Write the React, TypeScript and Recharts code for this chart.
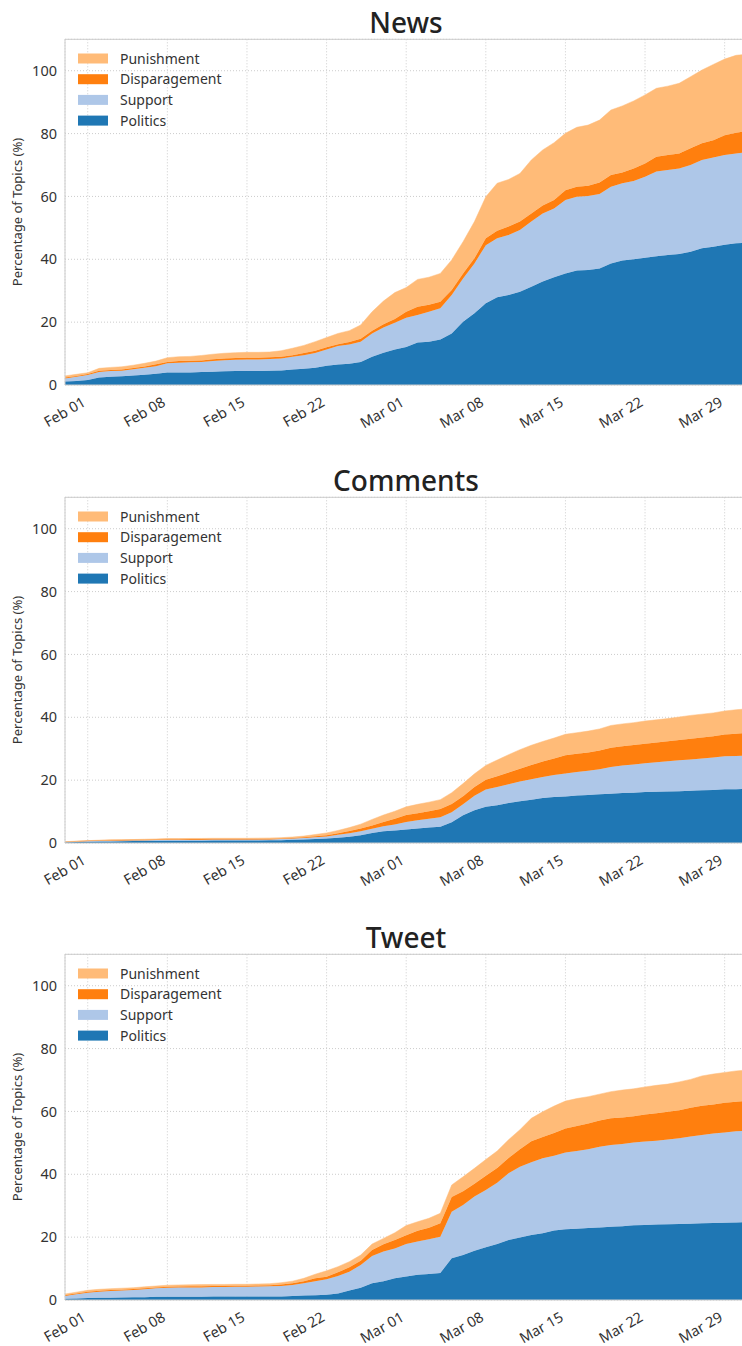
import React from 'react';
import { AreaChart, Area, XAxis, YAxis, CartesianGrid, ReferenceArea } from 'recharts';

// day offsets from Feb 01 (Jan 30 .. Mar 31)
const days = [
  -2, -1, 0, 1, 2, 3, 4, 5, 6, 7, 8, 9, 10, 11, 12, 13, 14, 15, 16, 17, 18, 19, 20,
  21, 22, 23, 24, 25, 26, 27, 28, 29, 30, 31, 32, 33, 34, 35, 36, 37, 38, 39, 40,
  41, 42, 43, 44, 45, 46, 47, 48, 49, 50, 51, 52, 53, 54, 55, 56, 57, 58,
];

const tickDays = [0, 7, 14, 21, 28, 35, 42, 49, 56];
const tickLabels = ['Feb 01', 'Feb 08', 'Feb 15', 'Feb 22', 'Mar 01', 'Mar 08', 'Mar 15', 'Mar 22', 'Mar 29'];
const yTicks = [0, 20, 40, 60, 80, 100];

const newsPolitics = [
  1.1, 1.3, 1.6, 2.4, 2.65, 2.75, 3.0, 3.3, 3.6,
  4.0, 4.0, 4.0, 4.1, 4.2, 4.35, 4.45, 4.45, 4.45, 4.55, 4.65,
  4.9, 5.2, 5.5, 6.15, 6.5, 6.8, 7.3, 9.0, 10.3, 11.3,
  12.1, 13.5, 13.8, 14.5, 16.4, 20.1, 22.8, 26.0, 27.9, 28.6, 29.7,
  31.3, 32.9, 34.3, 35.5, 36.4, 36.6, 37.1, 38.7, 39.6, 40.0,
  40.5, 41.0, 41.4, 41.7, 42.4, 43.5, 44.0, 44.6, 45.1, 45.3,
];
const newsSupport = [
  1.0, 1.3, 1.6, 1.7, 1.8, 1.8, 2.0, 2.2, 2.4,
  2.9, 3.1, 3.2, 3.2, 3.4, 3.5, 3.6, 3.7, 3.7, 3.7, 3.75,
  4.1, 4.3, 4.7, 5.15, 5.9, 6.1, 6.5, 7.4, 8.0, 8.5,
  9.3, 8.8, 9.5, 9.9, 12.2, 13.8, 15.9, 18.5, 18.8, 19.1, 19.6,
  20.7, 21.7, 21.9, 23.4, 23.5, 23.5, 23.7, 24.4, 24.6, 24.9,
  25.8, 26.9, 27.0, 27.2, 27.6, 28.1, 28.4, 28.6, 28.6, 28.8,
];
const newsDisparagement = [
  0.3, 0.3, 0.3, 0.4, 0.35, 0.35, 0.4, 0.4, 0.6,
  0.4, 0.5, 0.5, 0.5, 0.6, 0.55, 0.55, 0.55, 0.55, 0.55, 0.6,
  0.5, 0.7, 0.7, 0.7, 0.6, 0.8, 0.9, 0.9, 1.0, 1.2,
  1.9, 2.6, 2.2, 2.1, 1.6, 1.6, 1.6, 2.2, 2.4, 2.7, 2.7,
  2.6, 2.5, 2.7, 3.1, 3.2, 3.3, 3.6, 3.7, 3.4, 4.0,
  4.2, 4.7, 4.8, 4.8, 5.3, 5.3, 5.5, 6.3, 6.6, 6.8,
];
const newsPunishment = [
  0.5, 0.5, 0.4, 0.8, 0.8, 0.9, 0.9, 1.0, 1.0,
  1.4, 1.4, 1.4, 1.6, 1.6, 1.7, 1.7, 1.7, 1.7, 1.7, 1.9,
  2.2, 2.4, 2.9, 3.1, 3.4, 3.6, 4.4, 6.0, 7.4, 8.4,
  7.7, 8.7, 8.8, 9.0, 9.6, 10.1, 11.7, 13.2, 15.1, 15.0, 15.3,
  17.0, 17.7, 18.2, 18.1, 18.9, 19.3, 19.9, 20.7, 21.2, 21.5,
  21.8, 21.8, 21.9, 22.3, 22.8, 23.3, 24.1, 24.2, 24.6, 24.4,
];

const commentsPolitics = [
  0.2, 0.3, 0.4, 0.45, 0.5, 0.55, 0.6, 0.65, 0.7,
  0.75, 0.75, 0.75, 0.75, 0.8, 0.8, 0.8, 0.8, 0.8, 0.85, 0.9,
  1.0, 1.1, 1.25, 1.4, 1.7, 2.0, 2.5, 3.2, 3.7, 4.0,
  4.3, 4.6, 4.9, 5.2, 6.6, 8.8, 10.4, 11.5, 12.0, 12.7, 13.3,
  13.8, 14.3, 14.6, 14.8, 15.1, 15.3, 15.5, 15.7, 15.9, 16.0,
  16.2, 16.3, 16.4, 16.5, 16.6, 16.8, 16.9, 17.1, 17.1, 17.2,
];
const commentsSupport = [
  0.1, 0.15, 0.2, 0.25, 0.25, 0.25, 0.25, 0.25, 0.25,
  0.25, 0.25, 0.3, 0.3, 0.3, 0.3, 0.3, 0.3, 0.3, 0.3, 0.35,
  0.4, 0.5, 0.6, 0.7, 0.9, 1.1, 1.2, 1.3, 1.6, 1.9,
  2.4, 2.6, 2.8, 3.0, 3.2, 3.5, 4.6, 5.5, 5.8, 6.0, 6.3,
  6.5, 6.7, 7.0, 7.3, 7.5, 7.7, 8.0, 8.5, 8.8, 9.0,
  9.2, 9.4, 9.6, 9.8, 10.0, 10.1, 10.3, 10.5, 10.6, 10.6,
];
const commentsDisparagement = [
  0.05, 0.05, 0.1, 0.1, 0.15, 0.15, 0.15, 0.15, 0.15,
  0.2, 0.2, 0.2, 0.2, 0.2, 0.2, 0.2, 0.2, 0.2, 0.2, 0.2,
  0.2, 0.25, 0.3, 0.4, 0.5, 0.7, 0.9, 1.1, 1.4, 1.8,
  2.2, 2.3, 2.4, 2.6, 2.6, 2.6, 2.8, 3.1, 3.4, 3.7, 4.0,
  4.5, 4.9, 5.3, 5.8, 5.8, 5.8, 5.9, 6.1, 6.1, 6.2,
  6.2, 6.3, 6.4, 6.5, 6.6, 6.7, 6.8, 6.9, 7.1, 7.2,
];
const commentsPunishment = [
  0.05, 0.1, 0.05, 0.1, 0.1, 0.1, 0.1, 0.15, 0.2,
  0.2, 0.2, 0.2, 0.2, 0.2, 0.2, 0.2, 0.2, 0.25, 0.25, 0.25,
  0.3, 0.35, 0.55, 0.7, 0.9, 1.1, 1.4, 1.9, 2.2, 2.4,
  2.6, 2.8, 2.9, 3.0, 3.6, 4.0, 4.2, 4.6, 5.2, 5.7, 6.1,
  6.3, 6.4, 6.5, 6.7, 6.7, 6.8, 6.9, 7.1, 7.1, 7.1,
  7.2, 7.2, 7.2, 7.3, 7.4, 7.4, 7.4, 7.5, 7.6, 7.7,
];

const tweetPolitics = [
  0.4, 0.5, 0.6, 0.7, 0.75, 0.8, 0.85, 0.9, 1.0,
  1.05, 1.05, 1.05, 1.05, 1.1, 1.1, 1.15, 1.15, 1.15, 1.15, 1.15,
  1.3, 1.4, 1.5, 1.7, 2.1, 3.0, 3.9, 5.3, 6.0, 6.9,
  7.5, 8.0, 8.3, 8.6, 13.3, 14.3, 15.7, 16.8, 17.8, 19.1, 19.9,
  20.7, 21.2, 22.1, 22.5, 22.7, 22.9, 23.1, 23.3, 23.5, 23.8,
  23.9, 24.0, 24.1, 24.2, 24.3, 24.4, 24.5, 24.6, 24.7, 24.8,
];
const tweetSupport = [
  0.9, 1.3, 1.7, 1.9, 2.15, 2.2, 2.35, 2.5, 2.7,
  2.85, 2.9, 2.95, 2.95, 3.0, 3.05, 3.05, 3.1, 3.15, 3.2, 3.3,
  3.5, 3.9, 4.5, 4.9, 5.5, 6.0, 7.2, 8.7, 9.4, 9.5,
  10.3, 10.6, 11.0, 11.5, 14.8, 15.9, 17.2, 18.2, 19.5, 21.2, 22.5,
  23.1, 23.9, 23.8, 24.4, 24.7, 25.1, 25.7, 26.0, 26.1, 26.3,
  26.5, 26.7, 27.0, 27.3, 27.7, 28.1, 28.5, 28.7, 29.0, 29.1,
];
const tweetDisparagement = [
  0.3, 0.3, 0.35, 0.35, 0.3, 0.3, 0.3, 0.3, 0.3,
  0.35, 0.35, 0.35, 0.4, 0.35, 0.35, 0.35, 0.3, 0.3, 0.35, 0.45,
  0.5, 0.7, 0.9, 0.8, 1.2, 1.4, 1.4, 1.9, 2.3, 2.7,
  2.8, 3.4, 3.7, 4.3, 4.7, 4.4, 4.1, 4.5, 4.7, 4.9, 5.6,
  6.7, 6.8, 7.2, 7.7, 8.0, 8.2, 8.3, 8.5, 8.5, 8.4,
  8.6, 8.7, 8.8, 8.9, 9.2, 9.3, 9.2, 9.5, 9.4, 9.5,
];
const tweetPunishment = [
  0.3, 0.4, 0.45, 0.45, 0.4, 0.45, 0.4, 0.5, 0.45,
  0.45, 0.5, 0.5, 0.5, 0.5, 0.45, 0.45, 0.45, 0.5, 0.5, 0.6,
  0.7, 0.9, 1.3, 1.9, 1.8, 1.8, 1.8, 1.9, 1.9, 2.3,
  3.1, 2.9, 3.0, 3.2, 3.8, 4.6, 4.9, 5.2, 5.4, 5.8, 6.2,
  7.3, 8.0, 8.6, 8.7, 8.7, 8.5, 8.4, 8.5, 8.7, 8.7,
  8.8, 8.9, 8.8, 9.0, 9.0, 9.5, 9.7, 9.6, 9.8, 9.8,
];

const colors = {
  Politics: '#1f77b4',
  Support: '#aec7e8',
  Disparagement: '#ff7f0e',
  Punishment: '#ffbb78',
};
const stackOrder = ['Politics', 'Support', 'Disparagement', 'Punishment'];
const legendOrder = ['Punishment', 'Disparagement', 'Support', 'Politics'];

const panels = [
  { title: 'News', series: [newsPolitics, newsSupport, newsDisparagement, newsPunishment] },
  { title: 'Comments', series: [commentsPolitics, commentsSupport, commentsDisparagement, commentsPunishment] },
  { title: 'Tweet', series: [tweetPolitics, tweetSupport, tweetDisparagement, tweetPunishment] },
];

const font = '"Noto Sans", "DejaVu Sans", sans-serif';
const PANEL_H = 457.5;

const XTick = (props: any) => {
  const { x, y, payload } = props;
  const label = tickLabels[tickDays.indexOf(payload.value)];
  return (
    <g transform={`translate(${x - 1},${y + 18})`}>
      <text transform="rotate(-30)" textAnchor="end" fill="#333" fontSize={14.5} fontFamily={font}>
        {label}
      </text>
    </g>
  );
};

const Panel = ({ title, series }: { title: string; series: number[][] }) => {
  const data = days.map((day, i) => {
    const row: any = { day };
    stackOrder.forEach((name, k) => {
      row[name] = series[k][i];
    });
    return row;
  });

  return (
    <div style={{ position: 'relative', width: 760, height: PANEL_H }}>
      <AreaChart width={760} height={457} data={data} margin={{ top: 39.3, right: 12.6, bottom: 22, left: 0 }}>
        <XAxis
          dataKey="day"
          type="number"
          domain={[-2, 58]}
          ticks={tickDays}
          interval={0}
          height={50}
          axisLine={false}
          tickLine={false}
          tickSize={0}
          tick={<XTick />}
        />
        <YAxis
          type="number"
          domain={[0, 110]}
          ticks={yTicks}
          width={65}
          axisLine={false}
          tickLine={false}
          tickSize={0}
          tickMargin={8}
          allowDataOverflow
          tick={{ fill: '#333', fontSize: 14.5, fontFamily: font }}
        />
        {stackOrder.map((name) => (
          <Area
            key={name}
            type="linear"
            dataKey={name}
            stackId="topics"
            fill={colors[name as keyof typeof colors]}
            fillOpacity={1}
            stroke={colors[name as keyof typeof colors]}
            strokeWidth={0.5}
            dot={false}
            activeDot={false}
            isAnimationActive={false}
          />
        ))}
        <CartesianGrid stroke="#cccccc" strokeDasharray="1 2" />
        <ReferenceArea x1={-2} x2={58} y1={0} y2={110} fill="none" stroke="#cccccc" strokeWidth={1} />
      </AreaChart>
      <svg
        width={760}
        height={PANEL_H}
        style={{ position: 'absolute', left: 0, top: 0, pointerEvents: 'none' }}
      >
        <text x={406} y={33} textAnchor="middle" fontSize={28} fontWeight={500} fill="#222" fontFamily={font}>
          {title}
        </text>
        <text
          transform="translate(22,212) rotate(-90)"
          textAnchor="middle"
          fontSize={13}
          fill="#333"
          fontFamily={font}
        >
          Percentage of Topics (%)
        </text>
        {legendOrder.map((name, i) => {
          const cy = 58.5 + i * 20.7;
          return (
            <g key={name}>
              <rect x={78} y={cy - 5} width={30} height={10} fill={colors[name as keyof typeof colors]} />
              <text x={120} y={cy + 5} fontSize={14} fill="#333" fontFamily={font}>
                {name}
              </text>
            </g>
          );
        })}
      </svg>
    </div>
  );
};

export default function App() {
  return (
    <div
      style={{
        position: 'absolute',
        left: 0,
        top: 0,
        width: 742,
        height: 1346,
        overflow: 'hidden',
        background: '#fff',
      }}
    >
      {panels.map((p, i) => (
        <div key={p.title} style={{ position: 'absolute', left: 0, top: i * PANEL_H }}>
          <Panel title={p.title} series={p.series} />
        </div>
      ))}
    </div>
  );
}
